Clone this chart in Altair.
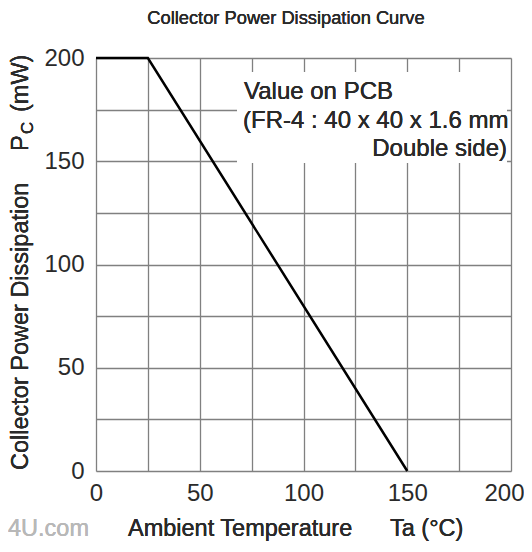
import altair as alt
import pandas as pd

# Data
temps = [0, 25, 150]
power = [200, 200, 0]
x_ticks = [0, 25, 50, 75, 100, 125, 150, 175, 200]
y_ticks = [0, 25, 50, 75, 100, 125, 150, 175, 200]

df = pd.DataFrame({"Ta": temps, "Pc": power})

FONT = "Liberation Sans"
TXT = "#2a2a2a"
W, H = 415, 413
OX, OY = 96, 58  # page position of the plot's top-left corner

x_scale = alt.Scale(domain=[0, 200], nice=False, zero=False)
y_scale = alt.Scale(domain=[0, 200], nice=False, zero=False)

line = alt.Chart(df).mark_line(color="black", strokeWidth=2.5, clip=False).encode(
    x=alt.X("Ta:Q", scale=x_scale, axis=alt.Axis(
        values=x_ticks, title=None, ticks=False, domain=False,
        grid=True, gridColor="#808080", gridWidth=1.3, gridOpacity=1,
        labelExpr="datum.value % 50 == 0 ? datum.label : ''",
        labelFont=FONT, labelFontSize=24, labelFontWeight=400, labelColor=TXT,
        labelPadding=10, labelFlush=False, labelOverlap=False,
        labelAlign={"condition": {"test": "datum.value == 200", "value": "right"}, "value": "center"},
        labelOffset={"condition": {"test": "datum.value == 200", "value": 13}, "value": 0})),
    y=alt.Y("Pc:Q", scale=y_scale, axis=alt.Axis(
        values=y_ticks, title=None, ticks=False, domain=False,
        grid=True, gridColor="#808080", gridWidth=1.3, gridOpacity=1,
        labelExpr="datum.value % 50 == 0 ? datum.label : ''",
        labelFont=FONT, labelFontSize=24, labelFontWeight=400, labelColor=TXT,
        labelPadding=12, labelFlush=False, labelOverlap=False)),
)

# white annotation box
box = alt.Chart(df).mark_rect(color="white").encode(
    x=alt.value(237 - OX), x2=alt.value(507 - OX),
    y=alt.value(72 - OY), y2=alt.value(163 - OY)
)

def txt(text, px, py, size=24, align="left", angle=0, color=TXT):
    """px, py are page positions (anchor, alphabetic baseline)."""
    kw = dict(text=text, font=FONT, fontSize=size, fontWeight=400, align=align,
              baseline="alphabetic", color=color)
    if angle:
        kw["angle"] = angle
    return alt.Chart(df).mark_text(**kw).encode(x=alt.value(px - OX), y=alt.value(py - OY))

ann = [
    txt("Value on PCB", 244, 99),
    txt("(FR-4 : 40 x 40 x 1.6 mm", 243, 128),
    txt("Double side)", 507, 156, align="right"),
]

title = txt("Collector Power Dissipation Curve", 286, 24, size=18.3, align="center")

xtitle = [
    txt("Ambient Temperature", 128, 536, size=23.5),
    txt("Ta (°C)", 390, 536, size=23.5),
    txt("4U.com", 8, 536, size=23.5, color="#b8b8b8"),
]

ytitle = [
    txt("Collector Power Dissipation", 28, 470, size=23.5, angle=270),
    txt("P", 28, 151, size=23.5, angle=270, align="left"),
    txt("C", 33, 134, size=17, angle=270, align="left"),
    txt("(mW)", 28, 112, size=23.5, angle=270, align="left"),
]

chart = alt.layer(line, box, *ann, title, *xtitle, *ytitle).properties(
    width=W, height=H,
    autosize=alt.AutoSizeParams(type="none"),
    padding={"left": OX - 8, "top": OY - 8, "right": 13, "bottom": 73},
).configure_view(stroke="#8a8e94", strokeWidth=1.5).configure(background="white")

chart.save("out.html", embed_options={"renderer": "svg", "actions": False})
